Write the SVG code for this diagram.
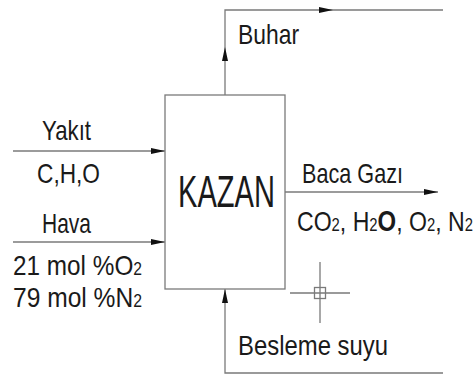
<svg xmlns="http://www.w3.org/2000/svg" xmlns:xlink="http://www.w3.org/1999/xlink" width="474" height="377" viewBox="0 0 474 377">
<style>
.ln{fill:none;stroke:#7a7a7a;stroke-width:1.3}
.ah{fill:#111;stroke:none}
.t{font-family:"Liberation Sans",Arial,sans-serif;font-size:28px;fill:#1a1a1a}
.s{font-size:18px}
.b{font-size:29px;font-weight:bold}
</style>
<defs>
<path id="ah" d="M0,0 L-14,-3 L-14,3 Z"/>
</defs>
<rect width="474" height="377" fill="#fff"/>
<g id="connectors">
<path class="ln" d="M13,151 H165"/>
<use xlink:href="#ah" class="ah" transform="translate(165,151)"/>
<path class="ln" d="M13,242 H165"/>
<use xlink:href="#ah" class="ah" transform="translate(165,242)"/>
<path class="ln" d="M225,95 V10 H443"/>
<use xlink:href="#ah" class="ah" transform="translate(225,47) rotate(-90)"/>
<use xlink:href="#ah" class="ah" transform="translate(333,10)"/>
<path class="ln" d="M285,192 H438"/>
<use xlink:href="#ah" class="ah" transform="translate(438,192)"/>
<path class="ln" d="M443,373 H225 V289"/>
<use xlink:href="#ah" class="ah" transform="translate(225,289) rotate(-90)"/>
</g>
<g id="kazan">
<rect class="ln" x="165" y="95" width="120" height="194"/>
<text class="t" x="178" y="207" style="font-size:44px" textLength="97" lengthAdjust="spacingAndGlyphs">KAZAN</text>
</g>
<g id="yakit">
<text class="t" x="42" y="140" textLength="49" lengthAdjust="spacingAndGlyphs">Yakıt</text>
<text class="t" x="37" y="183" textLength="63" lengthAdjust="spacingAndGlyphs">C,H,O</text>
</g>
<g id="hava">
<text class="t" x="42" y="233" textLength="49" lengthAdjust="spacingAndGlyphs">Hava</text>
<text class="t" x="13" y="275" textLength="129" lengthAdjust="spacingAndGlyphs">21 mol %O<tspan class="s">2</tspan></text>
<text class="t" x="13" y="307" textLength="129" lengthAdjust="spacingAndGlyphs">79 mol %N<tspan class="s">2</tspan></text>
</g>
<g id="buhar">
<text class="t" x="238" y="44" textLength="61" lengthAdjust="spacingAndGlyphs">Buhar</text>
</g>
<g id="baca-gazi">
<text class="t" x="302" y="183" textLength="101" lengthAdjust="spacingAndGlyphs">Baca Gazı</text>
<text class="t" x="297" y="231" textLength="176" lengthAdjust="spacingAndGlyphs">CO<tspan class="s">2</tspan>, H<tspan class="s">2</tspan><tspan class="b">O</tspan>, O<tspan class="s">2</tspan>, N<tspan class="s">2</tspan></text>
</g>
<g id="besleme">
<text class="t" x="238" y="355" textLength="150" lengthAdjust="spacingAndGlyphs">Besleme suyu</text>
</g>
<g id="crosshair">
<path class="ln" d="M290,293 H350 M320,262 V323"/>
<rect class="ln" x="314.5" y="287.5" width="11" height="11"/>
</g>
</svg>
